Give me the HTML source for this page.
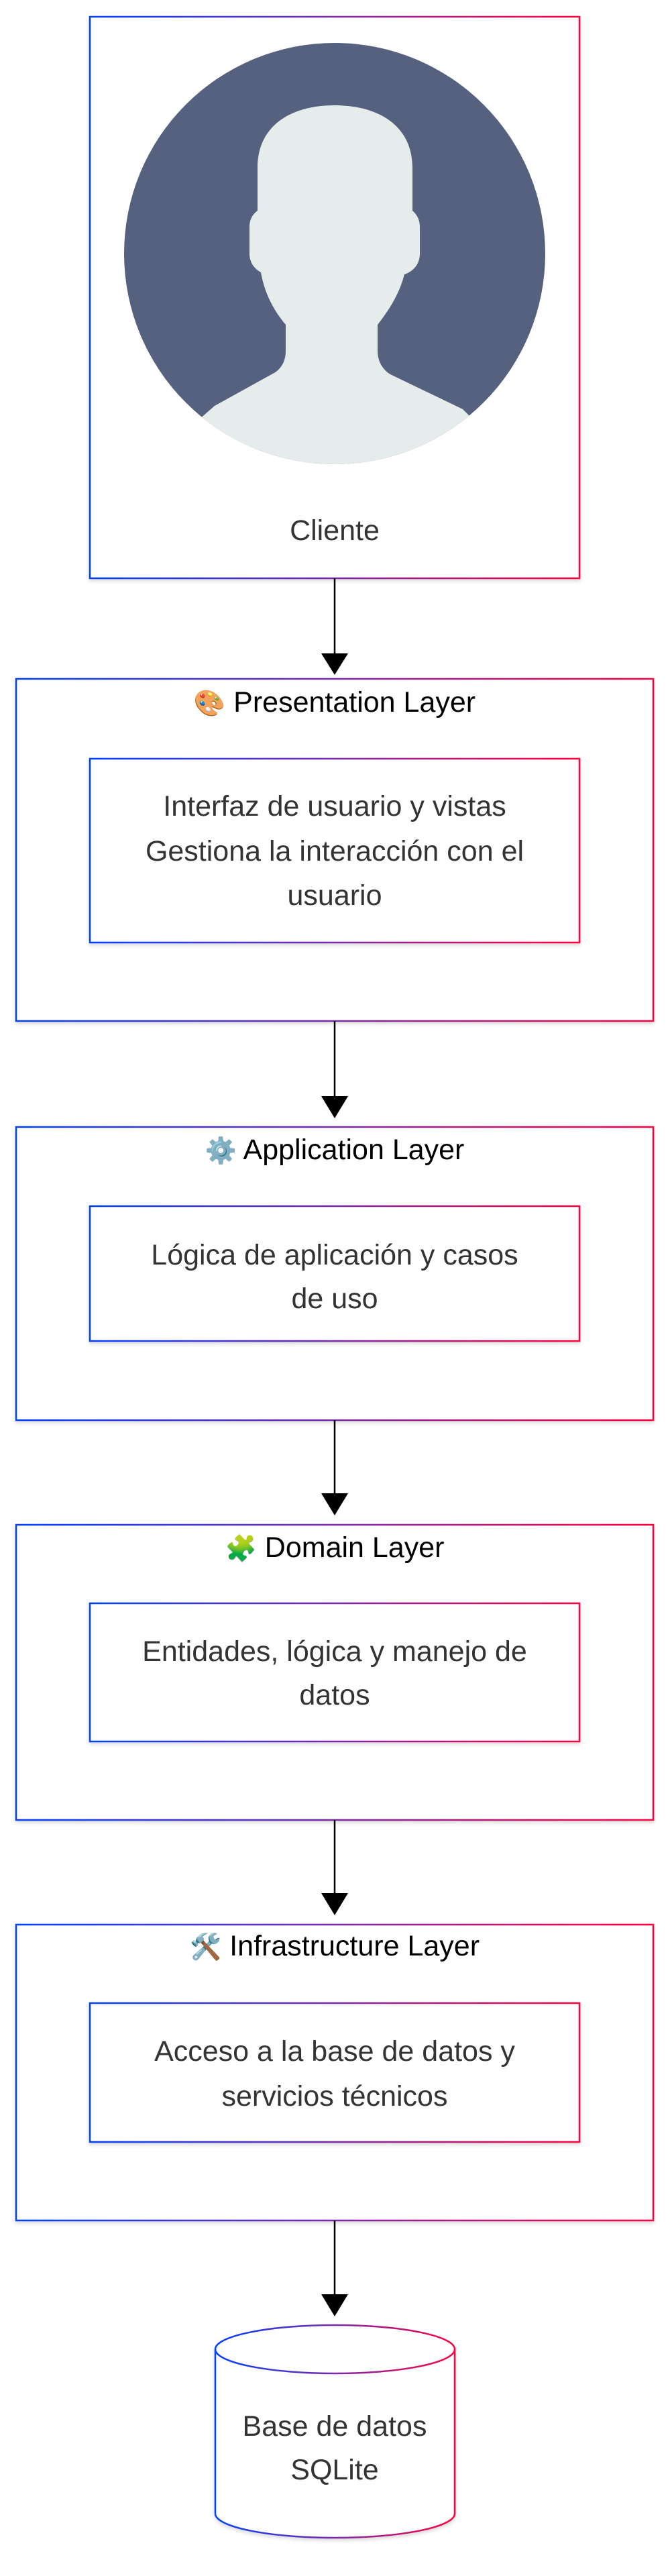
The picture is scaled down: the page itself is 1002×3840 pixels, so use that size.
<!DOCTYPE html>
<html><head><meta charset="utf-8"><style>
html,body{margin:0;padding:0;background:#fff}
svg{display:block}
.t{font-family:"Liberation Sans",Arial,sans-serif;text-anchor:middle}
.b{font-size:43px;fill:#333}
.h{font-size:43px;fill:#000}
.e{font-family:"DejaVu Sans",sans-serif;font-size:38px}
</style></head><body>
<svg width="1002" height="3840" viewBox="0 0 1002 3840" xmlns="http://www.w3.org/2000/svg">
<defs>
<linearGradient id="g" x1="0" y1="0" x2="1" y2="0">
<stop offset="0" stop-color="#0040ff"/><stop offset="0.5" stop-color="#7a2aa8"/><stop offset="1" stop-color="#ff0040"/>
</linearGradient>
<filter id="s" x="-5%" y="-5%" width="110%" height="110%"><feDropShadow dx="0" dy="3" stdDeviation="3" flood-color="#000" flood-opacity="0.15"/></filter>
<clipPath id="c"><circle cx="499" cy="378" r="314"/></clipPath>
</defs>
<g fill="#fff" stroke="url(#g)" stroke-width="2.5" filter="url(#s)">
<rect x="134" y="25" width="730" height="837"/>
<rect x="24" y="1012" width="950" height="510"/>
<rect x="24" y="1680" width="950" height="437"/>
<rect x="24" y="2273" width="950" height="440"/>
<rect x="24" y="2869" width="950" height="441"/>
</g>
<g fill="#fff" stroke="url(#g)" stroke-width="2.5" filter="url(#s)">
<rect x="134" y="1131" width="730" height="274"/>
<rect x="134" y="1798" width="730" height="201"/>
<rect x="134" y="2390" width="730" height="206"/>
<rect x="134" y="2986" width="730" height="207"/>
</g>
<circle cx="499" cy="378" r="314" fill="#56617f"/>
<path clip-path="url(#c)" fill="#e6ecec" d="M384,250 C384,190 430,157 499,157 C568,157 615,190 615,250 L615,314 C622,320 626,328 626,338 L626,378 C626,395 615,405 603,409 C595,440 578,465 563,484 L563,523 C563,540 572,552 582,558 L690,610 L720,640 L720,800 L280,800 L280,640 L320,605 L405,558 C418,552 426,540 426,523 L426,484 C410,465 395,440 389,406 C378,400 372,390 372,378 L372,338 C372,328 376,320 384,314 Z"/>
<text class="t" x="499" y="805" font-size="43" fill="#333">Cliente</text>
<g stroke="#000" stroke-width="2.5">
<line x1="499" y1="862" x2="499" y2="976"/>
<line x1="499" y1="1522" x2="499" y2="1636"/>
<line x1="499" y1="2117" x2="499" y2="2228"/>
<line x1="499" y1="2713" x2="499" y2="2824"/>
<line x1="499" y1="3310" x2="499" y2="3422"/>
</g>
<g fill="#000">
<path d="M479,974 L519,974 L499,1006 Z"/>
<path d="M479,1634 L519,1634 L499,1667 Z"/>
<path d="M479,2226 L519,2226 L499,2259 Z"/>
<path d="M479,2822 L519,2822 L499,2855 Z"/>
<path d="M479,3420 L519,3420 L499,3453 Z"/>
</g>
<text class="t h" x="499" y="1061"><tspan class="e">🎨</tspan> Presentation Layer</text>
<text class="t b" x="499" y="1216">Interfaz de usuario y vistas</text>
<text class="t b" x="499" y="1283">Gestiona la interacción con el</text>
<text class="t b" x="499" y="1349">usuario</text>
<text class="t h" x="499" y="1728"><tspan class="e">⚙️</tspan> Application Layer</text>
<text class="t b" x="499" y="1885">Lógica de aplicación y casos</text>
<text class="t b" x="499" y="1950">de uso</text>
<text class="t h" x="499" y="2321"><tspan class="e">🧩</tspan> Domain Layer</text>
<text class="t b" x="499" y="2476">Entidades, lógica y manejo de</text>
<text class="t b" x="499" y="2541">datos</text>
<text class="t h" x="499" y="2915"><tspan class="e">🛠️</tspan> Infrastructure Layer</text>
<text class="t b" x="499" y="3072">Acceso a la base de datos y</text>
<text class="t b" x="499" y="3139">servicios técnicos</text>
<g fill="#fff" stroke="url(#g)" stroke-width="2.5" filter="url(#s)">
<path d="M321,3502 A178.5,36 0 0 1 678,3502 L678,3747 A178.5,36 0 0 1 321,3747 Z"/>
<path d="M321,3502 A178.5,36 0 0 0 678,3502" fill="none"/>
</g>
<text class="t b" x="499" y="3631">Base de datos</text>
<text class="t b" x="499" y="3696">SQLite</text>
</svg>
</body></html>
